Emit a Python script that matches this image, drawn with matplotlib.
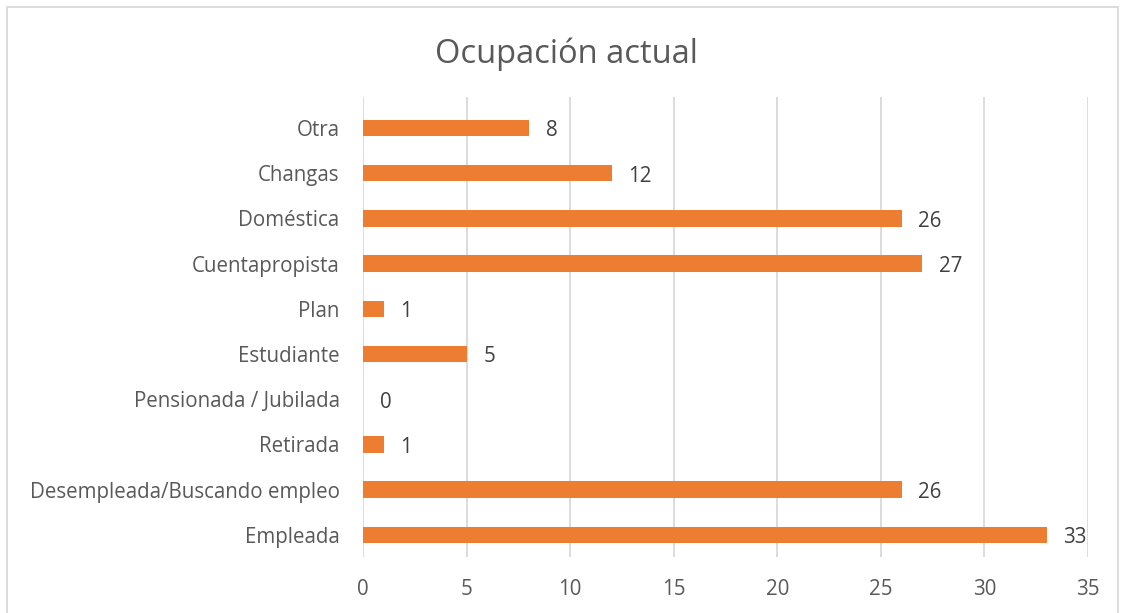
import matplotlib.pyplot as plt
from matplotlib.patches import Rectangle

categories = ["Empleada", "Desempleada/Buscando empleo", "Retirada",
              "Pensionada / Jubilada", "Estudiante", "Plan",
              "Cuentapropista", "Doméstica", "Changas", "Otra"]
values = [33, 26, 1, 0, 5, 1, 27, 26, 12, 8]
x_ticks = [0, 5, 10, 15, 20, 25, 30, 35]

plt.rcParams['font.family'] = ['Open Sans', 'DejaVu Sans']
text_color = '#595959'

fig = plt.figure(figsize=(11.21, 6.13), dpi=100)
ax = fig.add_axes([0.324, 0.0914, 0.6466, 0.7506])

pos = list(range(len(categories)))
ax.barh(pos, values, height=0.36, color='#ED7D31', zorder=3)
for p, v in zip(pos, values):
    ax.annotate(str(v), (v, p), xytext=(12, -2), textcoords='offset points',
                va='center', ha='left', fontsize=14.8, color='#404040')

ax.set_xlim(0, 35)
ax.set_ylim(-0.49, 9.69)
ax.set_xticks(x_ticks)
ax.set_yticks(pos)
ax.set_yticklabels(categories)
ax.tick_params(axis='both', length=0, labelsize=14.8, colors=text_color)
ax.tick_params(axis='x', pad=16)
ax.tick_params(axis='y', pad=17)
ax.grid(axis='x', color='#D9D9D9', linewidth=1.3, zorder=0)
for s in ax.spines.values():
    s.set_visible(False)

fig.text(0.505, 0.912, "Ocupación actual", ha='center', va='center',
         fontsize=23.5, color=text_color)

fig.patches.append(Rectangle((7 / 1121, -0.01), 1111 / 1121, 1 - 7 / 613 + 0.01,
                             transform=fig.transFigure, fill=False,
                             edgecolor='#D9D9D9', linewidth=1.3))

fig.savefig('out.png', dpi=100)
